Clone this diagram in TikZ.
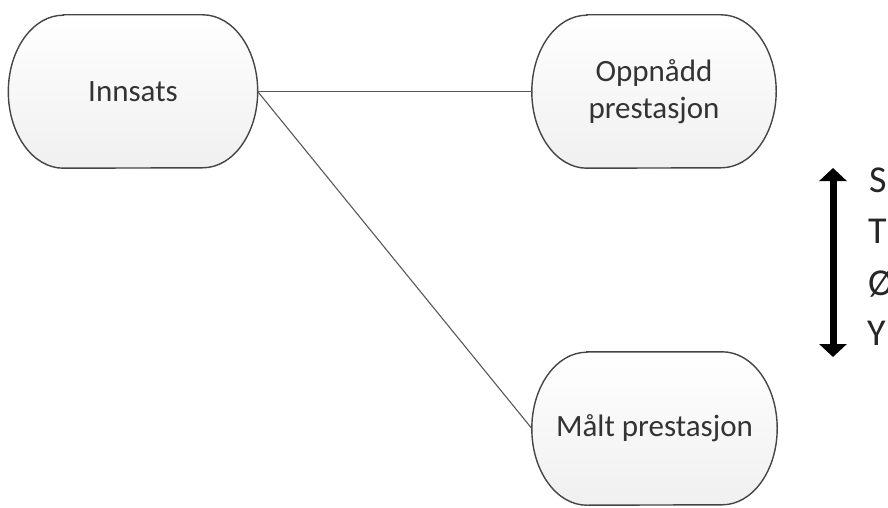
\documentclass[tikz,border=0pt]{standalone}
\usepackage{fontspec}
\setmainfont{Carlito}
\usetikzlibrary{arrows.meta,backgrounds}
\definecolor{edgegray}{HTML}{454545}
\definecolor{textgray}{HTML}{333333}
\tikzset{
  pill/.style={minimum height=153pt, inner sep=0pt, align=center,
    text=textgray, font=\fontsize{31}{37}\selectfont},
  pillline/.style={draw=edgegray, line width=1.4pt,
    top color=white, bottom color=black!6},
  link/.style={draw=edgegray!90, line width=1.1pt},
  scalearrow/.style={line width=7pt, {Triangle[width=27pt,length=13pt]}-{Triangle[width=27pt,length=13pt]}},
  scaletext/.style={anchor=base west, inner sep=0pt, text=black!85, font=\fontsize{38}{44}\selectfont}
}
% outline of a pill node with elliptical ends
\newcommand{\pilloutline}[1]{%
  \path[pillline] ([xshift=55pt]#1.north west) -- ([xshift=-55pt]#1.north east)
    arc[start angle=90,end angle=-90,x radius=55pt,y radius=76.5pt]
    -- ([xshift=55pt]#1.south west)
    arc[start angle=270,end angle=90,x radius=55pt,y radius=76.5pt] -- cycle;}
\begin{document}
\begin{tikzpicture}[x=1pt,y=1pt]
  \useasboundingbox (0,0) rectangle (888,507);
  % the three stages
  \node[pill, minimum width=249pt] (innsats) at (133,415.5) {Innsats};
  \node[pill, minimum width=244pt] (oppnadd) at (654,415.5) {Oppnådd\\prestasjon};
  \node[pill, minimum width=245pt] (malt) at (654.5,78.5) {Målt prestasjon};
  \begin{scope}[on background layer]
    \pilloutline{innsats}
    \pilloutline{oppnadd}
    \pilloutline{malt}
  \end{scope}
  % connections
  \draw[link] (innsats.east) -- (oppnadd.west);
  \draw[link] (innsats.east) -- (malt.west);
  % vertical scale on the right
  \coordinate (top) at (833,339);
  \coordinate (bot) at (833,150);
  \draw[scalearrow] (bot) -- (top);
  \node[scaletext] (s) at (869,315) {S};
  \node[scaletext] (t) at (868,264) {T};
  \node[scaletext] (o) at (868,212) {Ø};
  \node[scaletext] (y) at (867,162) {Y};
\end{tikzpicture}
\end{document}
